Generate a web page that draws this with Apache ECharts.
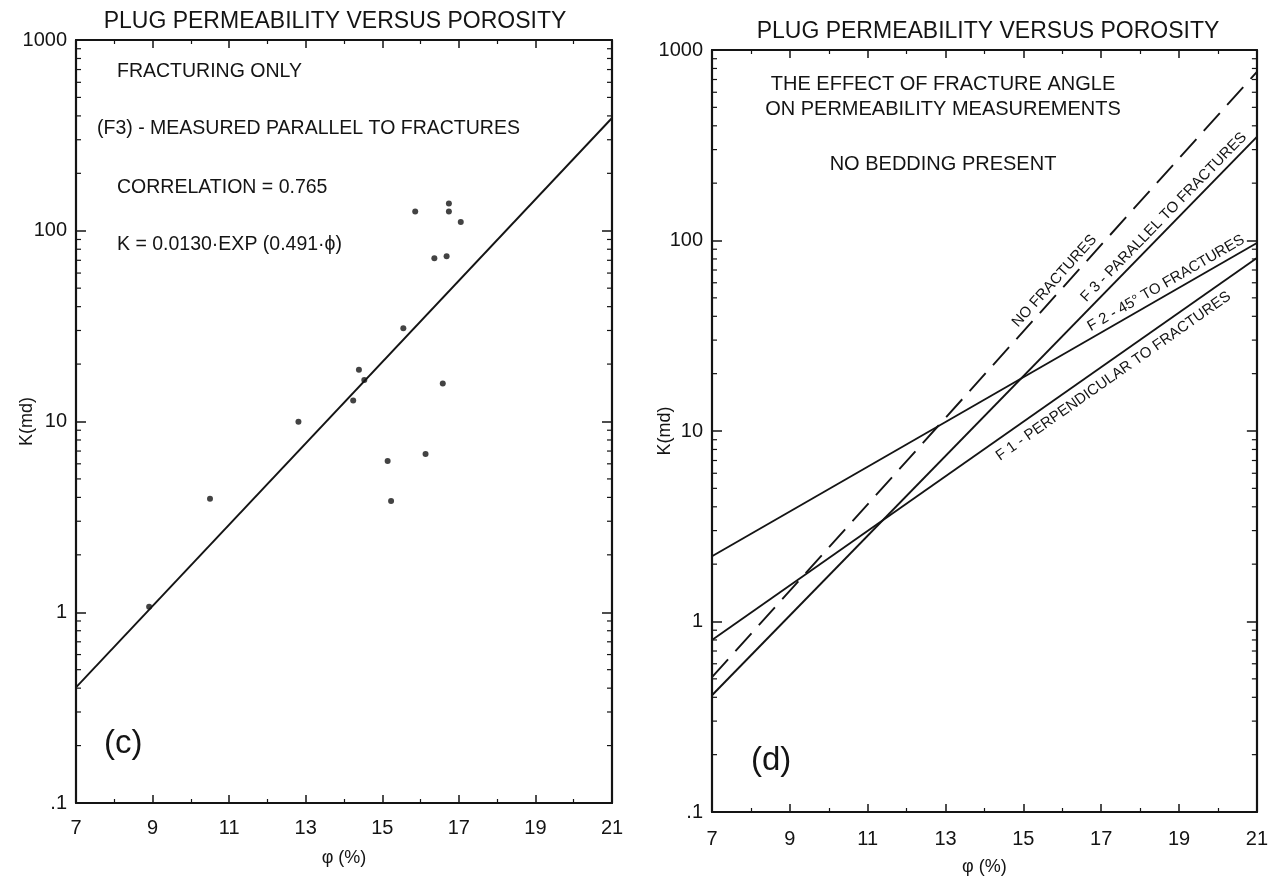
<!DOCTYPE html>
<html>
<head>
<meta charset="utf-8">
<script src="https://cdn.jsdelivr.net/npm/echarts@6/dist/echarts.min.js"></script>
<style>
  html, body { margin: 0; padding: 0; background: #fff; }
  #chart { width: 1271px; height: 882px; }
</style>
</head>
<body>
<div id="chart"></div>
<script>
// ---- Panel (c): plug measurements, fracturing only (F3, parallel to fractures)
const plugPorosity = [8.91, 10.50, 12.81, 14.24, 14.39, 14.53, 15.55, 15.14, 15.23, 16.13, 16.58, 15.86, 16.36, 16.68, 16.74, 16.74, 17.05];
const plugPermeability = [1.07, 3.94, 9.97, 12.9, 18.7, 16.5, 30.8, 6.2, 3.83, 6.76, 15.8, 126, 71.8, 73.6, 139, 126, 111];
// regression K = 0.0130·exp(0.491·φ) evaluated at the axis ends
const fitPorosity = [7, 21];
const fitPermeability = [0.404, 390];

// ---- Panel (d): effect of fracture angle, end values of each trend line
const trendPorosity = [7, 21];
const kNoFractures = [0.51, 767];
const kF3Parallel = [0.41, 350];
const kF2At45 = [2.2, 97];
const kF1Perpendicular = [0.80, 81];

// ---- Axis ticks
const porosityTicks = [7, 9, 11, 13, 15, 17, 19, 21];
const permeabilityTicks = [0.1, 1, 10, 100, 1000];
const permeabilityLabels = ['.1', '1', '10', '100', '1000'];
const logMinorFactors = [2, 3, 4, 5, 6, 7, 8, 9];

const INK = '#141414';
const FONT = '"Liberation Sans", Arial, Helvetica, sans-serif';

const chart = echarts.init(document.getElementById('chart'), null, { renderer: 'canvas' });

function pairs(xs, ys) { return xs.map((x, i) => [x, ys[i]]); }

function xAxisPair(gridIndex, labelMargin, nameGap) {
  const base = {
    gridIndex, type: 'value',
    min: porosityTicks[0], max: porosityTicks[porosityTicks.length - 1], interval: 2,
    axisLine: { show: true, onZero: false, lineStyle: { color: INK, width: 2.2 } },
    axisTick: { show: true, inside: true, length: 8, lineStyle: { color: INK, width: 1.5 } },
    minorTick: { show: true, splitNumber: 2, length: 4, lineStyle: { color: INK, width: 1.2 } },
    splitLine: { show: false }
  };
  return [
    Object.assign({}, base, {
      position: 'bottom',
      name: 'φ (%)', nameLocation: 'middle', nameGap, nameMoveOverlap: false,
      nameTextStyle: { fontFamily: FONT, fontSize: 18, color: INK },
      axisLabel: { show: true, margin: labelMargin, fontFamily: FONT, fontSize: 20, color: INK }
    }),
    Object.assign({}, base, { position: 'top', axisLabel: { show: false } })
  ];
}

function yAxisPair(gridIndex, nameGap) {
  const base = {
    gridIndex, type: 'log', logBase: 10,
    min: permeabilityTicks[0], max: permeabilityTicks[permeabilityTicks.length - 1],
    axisLine: { show: true, onZero: false, lineStyle: { color: INK, width: 2.2 } },
    axisTick: { show: true, inside: true, length: 10, lineStyle: { color: INK, width: 1.5 } },
    minorTick: { show: false },
    splitLine: { show: false }
  };
  return [
    Object.assign({}, base, {
      position: 'left',
      name: 'K(md)', nameLocation: 'middle', nameGap, nameRotate: 90, nameMoveOverlap: false,
      nameTextStyle: { fontFamily: FONT, fontSize: 18, color: INK },
      axisLabel: {
        show: true, margin: 9, fontFamily: FONT, fontSize: 20, color: INK,
        formatter: v => {
          const i = permeabilityTicks.findIndex(t => Math.abs(t - v) / t < 1e-6);
          return i >= 0 ? permeabilityLabels[i] : '';
        }
      }
    }),
    Object.assign({}, base, { position: 'right', axisLabel: { show: false } })
  ];
}

// minor log ticks (2..9 in every decade) on both vertical frame edges
const minorTickValues = [];
for (let d = 0; d < permeabilityTicks.length - 1; d++) {
  logMinorFactors.forEach(f => minorTickValues.push([porosityTicks[0], f * permeabilityTicks[d]]));
}
function minorTickSeries(axisIndex) {
  return {
    type: 'custom', xAxisIndex: axisIndex, yAxisIndex: axisIndex, silent: true, clip: false, z: 5,
    data: minorTickValues,
    renderItem: (params, api) => {
      const cs = params.coordSys;
      const y = api.coord([api.value(0), api.value(1)])[1];
      const style = { stroke: INK, lineWidth: 1.2 };
      return {
        type: 'group',
        children: [
          { type: 'line', shape: { x1: cs.x, y1: y, x2: cs.x + 5, y2: y }, style },
          { type: 'line', shape: { x1: cs.x + cs.width - 5, y1: y, x2: cs.x + cs.width, y2: y }, style }
        ]
      };
    }
  };
}

function trendLine(name, values, dashed) {
  return {
    name, type: 'line', xAxisIndex: 2, yAxisIndex: 2,
    data: pairs(trendPorosity, values),
    symbol: 'none', silent: true, z: 3,
    lineStyle: { color: INK, width: 1.9, type: dashed ? [24, 11] : 'solid' }
  };
}

const textStyle = (size) => ({ fontFamily: FONT, fontSize: size, fill: INK });

const option = {
  backgroundColor: '#ffffff',
  animation: false,
  title: [
    { text: 'PLUG PERMEABILITY VERSUS POROSITY', left: 330, top: 5, textAlign: 'center',
      textStyle: { fontFamily: FONT, fontSize: 23, fontWeight: 'normal', color: INK } },
    { text: 'PLUG PERMEABILITY VERSUS POROSITY', left: 983, top: 15, textAlign: 'center',
      textStyle: { fontFamily: FONT, fontSize: 23, fontWeight: 'normal', color: INK } }
  ],
  grid: [
    { left: 76, right: 659, top: 40, bottom: 79, containLabel: false },
    { left: 712, right: 13, top: 50, bottom: 70, containLabel: false }
  ],
  xAxis: [...xAxisPair(0, 15, 46), ...xAxisPair(1, 17, 46)],
  yAxis: [...yAxisPair(0, 40), ...yAxisPair(1, 38)],
  series: [
    {
      name: 'F3 plugs', type: 'scatter', xAxisIndex: 0, yAxisIndex: 0,
      data: pairs(plugPorosity, plugPermeability),
      symbol: 'circle', symbolSize: 6, itemStyle: { color: INK }, z: 4
    },
    {
      name: 'F3 fit', type: 'line', xAxisIndex: 0, yAxisIndex: 0,
      data: pairs(fitPorosity, fitPermeability),
      symbol: 'none', silent: true, lineStyle: { color: INK, width: 1.9 }
    },
    trendLine('NO FRACTURES', kNoFractures, true),
    trendLine('F 3 - PARALLEL TO FRACTURES', kF3Parallel, false),
    trendLine('F 2 - 45° TO FRACTURES', kF2At45, false),
    trendLine('F 1 - PERPENDICULAR TO FRACTURES', kF1Perpendicular, false),
    minorTickSeries(0),
    minorTickSeries(2)
  ],
  graphic: [
    { type: 'text', left: 117, top: 62, style: Object.assign({ text: 'FRACTURING ONLY' }, textStyle(19.5)) },
    { type: 'text', left: 97, top: 119, style: Object.assign({ text: '(F3) - MEASURED PARALLEL TO FRACTURES' }, textStyle(19.5)) },
    { type: 'text', left: 117, top: 178, style: Object.assign({ text: 'CORRELATION = 0.765' }, textStyle(19.5)) },
    { type: 'text', left: 117, top: 235, style: Object.assign({ text: 'K = 0.0130·EXP (0.491·ϕ)' }, textStyle(19.5)) },
    { type: 'text', left: 104, top: 727, style: Object.assign({ text: '(c)' }, textStyle(33)) },
    { type: 'text', left: 751, top: 744, style: Object.assign({ text: '(d)' }, textStyle(33)) },
    { type: 'text', x: 943, y: 72, style: Object.assign({ text: 'THE EFFECT OF FRACTURE ANGLE\nON PERMEABILITY MEASUREMENTS', lineHeight: 25, align: 'center', verticalAlign: 'top' }, textStyle(20)) },
    { type: 'text', x: 943, y: 154, style: Object.assign({ text: 'NO BEDDING PRESENT', align: 'center', verticalAlign: 'top' }, textStyle(20)) }
  ]
};

chart.setOption(option);

// Labels written along each trend line of panel (d), placed through the axes' own scales
const lineLabels = [
  { text: 'NO FRACTURES', values: kNoFractures, at: 16.0, above: true, size: 15 },
  { text: 'F 3 - PARALLEL TO FRACTURES', values: kF3Parallel, at: 18.8, above: true, size: 15 },
  { text: 'F 2 - 45° TO FRACTURES', values: kF2At45, at: 18.8, above: true, size: 15 },
  { text: 'F 1 - PERPENDICULAR TO FRACTURES', values: kF1Perpendicular, at: 17.1, above: false, size: 15 }
];
const finder = { xAxisIndex: 2, yAxisIndex: 2 };
const labelGraphics = lineLabels.map(l => {
  const p0 = chart.convertToPixel(finder, [trendPorosity[0], l.values[0]]);
  const p1 = chart.convertToPixel(finder, [trendPorosity[1], l.values[1]]);
  const px = chart.convertToPixel(finder, [l.at, l.values[0]])[0];
  const t = (px - p0[0]) / (p1[0] - p0[0]);
  const x = p0[0] + t * (p1[0] - p0[0]);
  const y = p0[1] + t * (p1[1] - p0[1]);
  const angle = Math.atan2(p0[1] - p1[1], p1[0] - p0[0]);
  const off = l.above ? -3 : 7;
  return {
    type: 'text', x: x + off * Math.sin(angle), y: y + off * Math.cos(angle), rotation: angle, z: 10,
    style: Object.assign({ text: l.text, align: 'center', verticalAlign: l.above ? 'bottom' : 'top' }, textStyle(l.size))
  };
});
chart.setOption({ graphic: option.graphic.concat(labelGraphics) });
</script>
</body>
</html>
